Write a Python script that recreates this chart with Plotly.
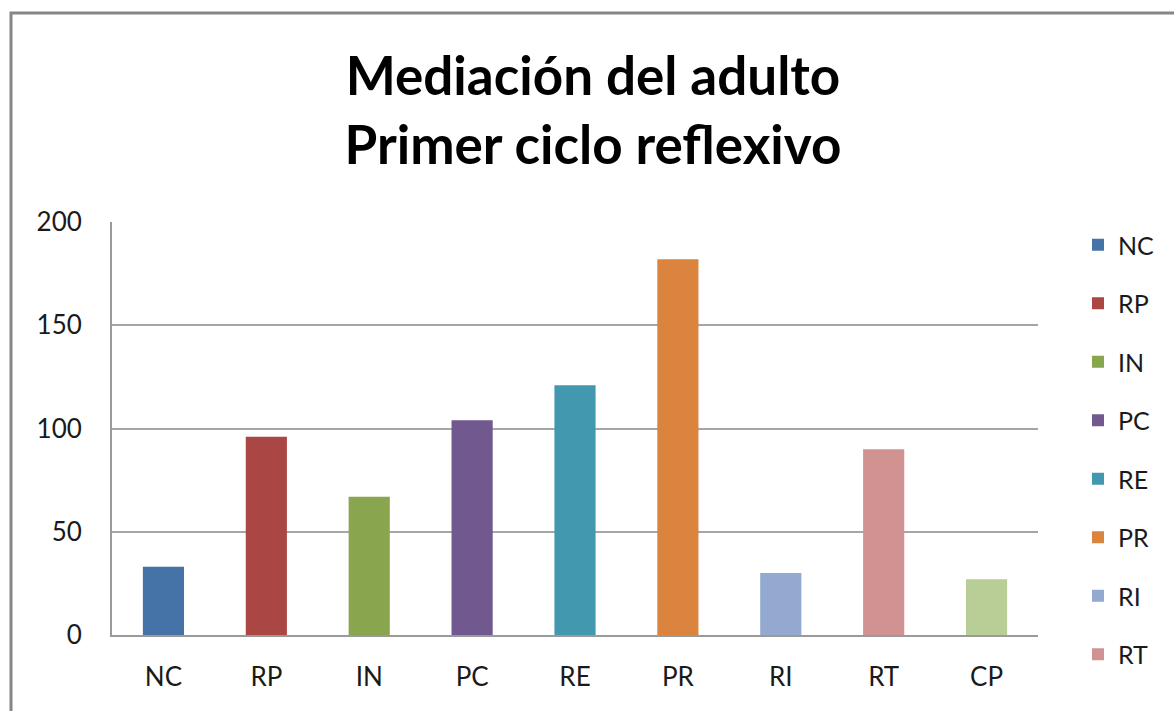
import plotly.graph_objects as go

categories = ["NC", "RP", "IN", "PC", "RE", "PR", "RI", "RT", "CP"]
values = [33, 96, 67, 104, 121, 182, 30, 90, 27]
colors = ["#4572A7", "#AA4643", "#89A54E", "#71588F", "#4198AF",
          "#DB843D", "#93A9CF", "#D19392", "#B9CD96"]
legend_shown = ["NC", "RP", "IN", "PC", "RE", "PR", "RI", "RT"]
y_ticks = [0, 50, 100, 150, 200]

W, H = 1174, 711
L, R, T, B = 112, 1038, 222, 635

fig = go.Figure()
for cat, val, col in zip(categories, values, colors):
    fig.add_trace(go.Bar(
        x=[cat], y=[val], name=cat, marker=dict(color=col, line=dict(width=0)),
        showlegend=cat in legend_shown, legendgroup=cat,
    ))

def px_x(p):
    return (p - L) / (R - L)

def px_y(p):
    return (B - p) / (B - T)

fig.update_layout(
    width=W, height=H,
    margin=dict(l=L, r=W - R, t=T, b=H - B, pad=0),
    paper_bgcolor="white", plot_bgcolor="white",
    barmode="relative", bargap=0.6,
    font=dict(family="Lato, 'Open Sans', sans-serif", color="#1a1a1a"),
    title=dict(
        text="<b>Mediación del adulto</b><br><b>Primer ciclo reflexivo</b>",
        x=px_x(593), xref="paper", xanchor="center",
        y=1 - 95 / H, yanchor="top",
        font=dict(size=53, color="black", family="Lato, sans-serif"),
    ),
    xaxis=dict(
        categoryorder="array", categoryarray=categories,
        showgrid=False, showline=True, linecolor="#9a9a9a", linewidth=2,
        ticks="", tickfont=dict(size=26), ticklabelstandoff=18,
    ),
    yaxis=dict(
        range=[0, 200], tickvals=y_ticks, showgrid=True, gridcolor="#a6a6a6", gridwidth=2,
        showline=True, linecolor="#9a9a9a", linewidth=2, zeroline=False,
        ticks="", tickfont=dict(size=26), ticklabelstandoff=23,
    ),
    legend=dict(
        x=px_x(1078), xanchor="left", y=px_y(222), yanchor="top",
        font=dict(size=25), tracegroupgap=23, itemwidth=30,
        bgcolor="rgba(0,0,0,0)", maxheight=1000,
    ),
    shapes=[dict(
        type="rect", xref="paper", yref="paper",
        x0=px_x(11), x1=px_x(1190), y0=px_y(730), y1=px_y(13),
        line=dict(color="#868686", width=3), fillcolor="rgba(0,0,0,0)", layer="below",
    )],
)

fig.write_html("out.html", config={"displayModeBar": False},
               post_script="document.body.style.margin='0';")
